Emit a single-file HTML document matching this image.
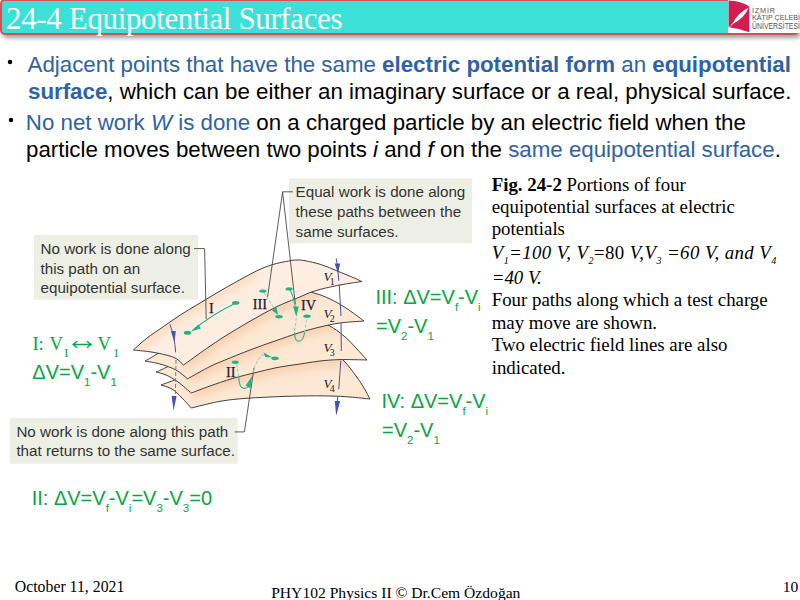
<!DOCTYPE html>
<html><head><meta charset="utf-8">
<style>
*{margin:0;padding:0}
html,body{width:800px;height:600px;overflow:hidden;background:#fff}
.tb{position:absolute;left:0;top:-1px;width:795px;height:32px;background:#3DE0D6;border:2px solid #CC5452;border-radius:5px;box-shadow:2px 3px 4px rgba(10,30,30,.42)}
svg{position:absolute;left:0;top:0}
</style></head><body>
<div class="tb"></div>
<svg width="800" height="600" viewBox="0 0 800 600">
<g transform="translate(728,0)">
<rect x="0" y="0" width="72" height="33" fill="#fff"/>
<path d="M0.5 0.4 Q13 0.6 21.3 6.6 L21.3 32.2 Q11 28.2 0.5 27.2 Z" fill="#D01E50"/>
<path d="M4.5 24 Q9.5 12.7 20.8 7.5 Q15.8 18.8 4.5 24 Z" fill="#fff"/>
<path d="M1.2 27.3 L8 20.5" stroke="#fff" stroke-width="0.8"/>
<g fill="#545466" font-family="Liberation Sans">
<text x="24" y="12.8" font-size="7.2" textLength="23" lengthAdjust="spacing">İZMİR</text>
<text x="24" y="20.3" font-size="7.6" textLength="48" lengthAdjust="spacingAndGlyphs">KÂTİP ÇELEBİ</text>
<text x="24" y="28.7" font-size="8.2" textLength="48" lengthAdjust="spacingAndGlyphs">ÜNİVERSİTESİ</text>
</g>
</g>

<rect x="289" y="178.4" width="183" height="64.6" fill="#EEEFE4"/>
<rect x="34" y="235" width="164" height="64.8" fill="#EEEFE4"/>
<rect x="9.7" y="417.8" width="228.1" height="46" fill="#EEEFE4"/>

<defs>
<linearGradient id="g1" x1="0" y1="0" x2="0" y2="1"><stop offset="0" stop-color="#FCE4D3"/><stop offset="0.5" stop-color="#FDEBDF"/><stop offset="1" stop-color="#FBE0CD"/></linearGradient>
<linearGradient id="g2" x1="0" y1="0" x2="0" y2="1"><stop offset="0" stop-color="#F4C9AC"/><stop offset="0.6" stop-color="#F9DAC4"/><stop offset="1" stop-color="#FBE3D2"/></linearGradient>
</defs>
<filter id="bl" x="-20%" y="-50%" width="140%" height="200%"><feGaussianBlur stdDeviation="5"/></filter>
<clipPath id="c1"><path d="M133.3 350 C135.5 348.1 141.7 342.2 146.7 338.3 C151.7 334.4 157.8 330.6 163.3 326.7 C168.9 322.8 174.4 318.8 180.0 315.2 C185.6 311.6 191.1 308.4 196.7 305.0 C202.2 301.6 207.8 298.3 213.3 295.0 C218.9 291.7 222.8 289.3 230.0 285.3 C237.2 281.3 249.2 274.6 256.2 271.1 C263.3 267.7 267.1 266.3 272.5 264.6 C277.9 262.9 284.8 261.8 288.8 261.0 C292.7 260.2 293.3 260.1 296.0 260.0 C298.7 259.9 300.8 259.9 305.0 260.7 C309.2 261.5 315.8 262.9 321.2 264.6 C326.7 266.3 332.1 268.9 337.5 271.1 C342.9 273.3 349.7 276.1 353.8 277.8 C357.8 279.5 360.5 280.9 361.8 281.5 C359.1 281.9 351.0 283.1 345.6 284.0 C340.2 284.9 334.8 285.9 329.4 287.2 C324.0 288.4 317.9 289.9 313.0 291.5 C308.1 293.1 306.3 294.2 300.0 296.9 C293.7 299.6 283.3 303.4 275.0 307.5 C266.7 311.6 258.3 316.5 250.0 321.2 C241.7 326.0 232.3 331.7 225.0 336.2 C217.7 340.8 213.2 344.0 206.2 348.8 C199.3 353.5 187.3 362.3 183.5 365.0 C182.2 363.9 178.9 360.2 176.0 358.5 C173.1 356.8 170.3 356.1 166.0 355.0 C161.7 353.9 155.4 352.6 150.0 351.8 C144.6 351.0 136.1 350.3 133.3 350.0 Z"/></clipPath>
<clipPath id="c2"><path d="M145 361 C147.0 359.8 147.8 359.8 157.0 354.0 C166.2 348.2 184.5 334.8 200.0 326.0 C215.5 317.2 235.0 307.2 250.0 301.0 C265.0 294.8 279.3 290.3 290.0 289.0 C300.7 287.7 307.3 291.3 314.0 293.0 C320.7 294.7 324.7 296.5 330.0 299.0 C335.3 301.5 340.3 304.3 346.0 308.0 C351.7 311.7 361.0 318.8 364.0 321.0 C360.0 321.3 347.3 322.0 340.0 323.0 C332.7 324.0 326.7 325.4 320.0 327.0 C313.3 328.6 307.5 330.2 300.0 332.5 C292.5 334.8 283.3 338.1 275.0 341.0 C266.7 343.9 258.3 346.8 250.0 350.0 C241.7 353.2 231.7 357.2 225.0 360.0 C218.3 362.8 216.2 363.4 210.0 366.5 C203.8 369.6 191.2 376.8 187.5 378.8 C185.6 377.3 180.6 372.5 176.0 370.0 C171.4 367.5 165.2 365.5 160.0 364.0 C154.8 362.5 147.5 361.5 145.0 361.0 Z"/></clipPath>
<clipPath id="c3"><path d="M156 372 C157.8 371.2 156.3 372.3 167.0 367.0 C177.7 361.7 201.2 347.5 220.0 340.0 C238.8 332.5 265.0 325.3 280.0 322.0 C295.0 318.7 302.0 319.5 310.0 320.0 C318.0 320.5 322.3 322.3 328.0 325.0 C333.7 327.7 339.3 332.2 344.0 336.0 C348.7 339.8 352.2 344.0 356.0 348.0 C359.8 352.0 365.2 358.0 367.0 360.0 C362.5 359.9 347.8 359.4 340.0 359.6 C332.2 359.8 326.7 360.3 320.0 361.0 C313.3 361.7 306.7 363.0 300.0 364.0 C293.3 365.0 286.7 365.8 280.0 367.0 C273.3 368.2 267.9 369.6 260.0 371.5 C252.1 373.4 240.8 376.1 232.5 378.5 C224.2 380.9 216.9 383.6 210.0 386.0 C203.1 388.4 194.4 391.8 191.3 393.0 C189.1 391.2 182.2 385.0 178.0 382.0 C173.8 379.0 169.7 376.7 166.0 375.0 C162.3 373.3 157.7 372.5 156.0 372.0 Z"/></clipPath>
<clipPath id="c4"><path d="M161 385 C162.8 384.3 160.5 385.2 172.0 381.0 C183.5 376.8 210.3 366.0 230.0 360.0 C249.7 354.0 273.3 346.7 290.0 345.0 C306.7 343.3 321.0 347.3 330.0 350.0 C339.0 352.7 339.7 356.7 344.0 361.0 C348.3 365.3 352.7 371.5 356.0 376.0 C359.3 380.5 361.7 384.2 364.0 388.0 C366.3 391.8 369.0 397.2 370.0 399.0 C366.7 398.7 356.7 397.5 350.0 397.0 C343.3 396.5 338.3 396.2 330.0 396.0 C321.7 395.8 310.0 395.8 300.0 396.0 C290.0 396.2 280.0 396.5 270.0 397.0 C260.0 397.5 248.8 398.0 240.0 398.8 C231.2 399.6 225.6 400.3 217.5 401.8 C209.4 403.3 195.7 407.0 191.3 408.0 C189.8 406.3 185.2 401.2 182.0 398.0 C178.8 394.8 175.5 391.2 172.0 389.0 C168.5 386.8 162.8 385.7 161.0 385.0 Z"/></clipPath>
<path d="M161 385 C162.8 384.3 160.5 385.2 172.0 381.0 C183.5 376.8 210.3 366.0 230.0 360.0 C249.7 354.0 273.3 346.7 290.0 345.0 C306.7 343.3 321.0 347.3 330.0 350.0 C339.0 352.7 339.7 356.7 344.0 361.0 C348.3 365.3 352.7 371.5 356.0 376.0 C359.3 380.5 361.7 384.2 364.0 388.0 C366.3 391.8 369.0 397.2 370.0 399.0 C366.7 398.7 356.7 397.5 350.0 397.0 C343.3 396.5 338.3 396.2 330.0 396.0 C321.7 395.8 310.0 395.8 300.0 396.0 C290.0 396.2 280.0 396.5 270.0 397.0 C260.0 397.5 248.8 398.0 240.0 398.8 C231.2 399.6 225.6 400.3 217.5 401.8 C209.4 403.3 195.7 407.0 191.3 408.0 C189.8 406.3 185.2 401.2 182.0 398.0 C178.8 394.8 175.5 391.2 172.0 389.0 C168.5 386.8 162.8 385.7 161.0 385.0 Z" fill="#FDE8D4"/>
<g clip-path="url(#c4)"><path d="M367 360 C362.5 359.9 347.8 359.4 340.0 359.6 C332.2 359.8 326.7 360.3 320.0 361.0 C313.3 361.7 306.7 363.0 300.0 364.0 C293.3 365.0 286.7 365.8 280.0 367.0 C273.3 368.2 267.9 369.6 260.0 371.5 C252.1 373.4 240.8 376.1 232.5 378.5 C224.2 380.9 216.9 383.6 210.0 386.0 C203.1 388.4 194.4 391.8 191.3 393.0" fill="none" stroke="#F8CFAE" stroke-width="12" filter="url(#bl)"/></g>
<path d="M161 385 C162.8 384.3 160.5 385.2 172.0 381.0 C183.5 376.8 210.3 366.0 230.0 360.0 C249.7 354.0 273.3 346.7 290.0 345.0 C306.7 343.3 321.0 347.3 330.0 350.0 C339.0 352.7 339.7 356.7 344.0 361.0 C348.3 365.3 352.7 371.5 356.0 376.0 C359.3 380.5 361.7 384.2 364.0 388.0 C366.3 391.8 369.0 397.2 370.0 399.0 C366.7 398.7 356.7 397.5 350.0 397.0 C343.3 396.5 338.3 396.2 330.0 396.0 C321.7 395.8 310.0 395.8 300.0 396.0 C290.0 396.2 280.0 396.5 270.0 397.0 C260.0 397.5 248.8 398.0 240.0 398.8 C231.2 399.6 225.6 400.3 217.5 401.8 C209.4 403.3 195.7 407.0 191.3 408.0 C189.8 406.3 185.2 401.2 182.0 398.0 C178.8 394.8 175.5 391.2 172.0 389.0 C168.5 386.8 162.8 385.7 161.0 385.0 Z" fill="none" stroke="#2b2b2b" stroke-width="0.9"/>
<path d="M156 372 C157.8 371.2 156.3 372.3 167.0 367.0 C177.7 361.7 201.2 347.5 220.0 340.0 C238.8 332.5 265.0 325.3 280.0 322.0 C295.0 318.7 302.0 319.5 310.0 320.0 C318.0 320.5 322.3 322.3 328.0 325.0 C333.7 327.7 339.3 332.2 344.0 336.0 C348.7 339.8 352.2 344.0 356.0 348.0 C359.8 352.0 365.2 358.0 367.0 360.0 C362.5 359.9 347.8 359.4 340.0 359.6 C332.2 359.8 326.7 360.3 320.0 361.0 C313.3 361.7 306.7 363.0 300.0 364.0 C293.3 365.0 286.7 365.8 280.0 367.0 C273.3 368.2 267.9 369.6 260.0 371.5 C252.1 373.4 240.8 376.1 232.5 378.5 C224.2 380.9 216.9 383.6 210.0 386.0 C203.1 388.4 194.4 391.8 191.3 393.0 C189.1 391.2 182.2 385.0 178.0 382.0 C173.8 379.0 169.7 376.7 166.0 375.0 C162.3 373.3 157.7 372.5 156.0 372.0 Z" fill="#FDE8D4"/>
<g clip-path="url(#c3)"><path d="M364 321 C360.0 321.3 347.3 322.0 340.0 323.0 C332.7 324.0 326.7 325.4 320.0 327.0 C313.3 328.6 307.5 330.2 300.0 332.5 C292.5 334.8 283.3 338.1 275.0 341.0 C266.7 343.9 258.3 346.8 250.0 350.0 C241.7 353.2 231.7 357.2 225.0 360.0 C218.3 362.8 216.2 363.4 210.0 366.5 C203.8 369.6 191.2 376.8 187.5 378.8" fill="none" stroke="#F8CFAE" stroke-width="12" filter="url(#bl)"/></g>
<path d="M156 372 C157.8 371.2 156.3 372.3 167.0 367.0 C177.7 361.7 201.2 347.5 220.0 340.0 C238.8 332.5 265.0 325.3 280.0 322.0 C295.0 318.7 302.0 319.5 310.0 320.0 C318.0 320.5 322.3 322.3 328.0 325.0 C333.7 327.7 339.3 332.2 344.0 336.0 C348.7 339.8 352.2 344.0 356.0 348.0 C359.8 352.0 365.2 358.0 367.0 360.0 C362.5 359.9 347.8 359.4 340.0 359.6 C332.2 359.8 326.7 360.3 320.0 361.0 C313.3 361.7 306.7 363.0 300.0 364.0 C293.3 365.0 286.7 365.8 280.0 367.0 C273.3 368.2 267.9 369.6 260.0 371.5 C252.1 373.4 240.8 376.1 232.5 378.5 C224.2 380.9 216.9 383.6 210.0 386.0 C203.1 388.4 194.4 391.8 191.3 393.0 C189.1 391.2 182.2 385.0 178.0 382.0 C173.8 379.0 169.7 376.7 166.0 375.0 C162.3 373.3 157.7 372.5 156.0 372.0 Z" fill="none" stroke="#2b2b2b" stroke-width="0.9"/>
<path d="M145 361 C147.0 359.8 147.8 359.8 157.0 354.0 C166.2 348.2 184.5 334.8 200.0 326.0 C215.5 317.2 235.0 307.2 250.0 301.0 C265.0 294.8 279.3 290.3 290.0 289.0 C300.7 287.7 307.3 291.3 314.0 293.0 C320.7 294.7 324.7 296.5 330.0 299.0 C335.3 301.5 340.3 304.3 346.0 308.0 C351.7 311.7 361.0 318.8 364.0 321.0 C360.0 321.3 347.3 322.0 340.0 323.0 C332.7 324.0 326.7 325.4 320.0 327.0 C313.3 328.6 307.5 330.2 300.0 332.5 C292.5 334.8 283.3 338.1 275.0 341.0 C266.7 343.9 258.3 346.8 250.0 350.0 C241.7 353.2 231.7 357.2 225.0 360.0 C218.3 362.8 216.2 363.4 210.0 366.5 C203.8 369.6 191.2 376.8 187.5 378.8 C185.6 377.3 180.6 372.5 176.0 370.0 C171.4 367.5 165.2 365.5 160.0 364.0 C154.8 362.5 147.5 361.5 145.0 361.0 Z" fill="#FDE8D4"/>
<g clip-path="url(#c2)"><path d="M361.8 281.5 C359.1 281.9 351.0 283.1 345.6 284.0 C340.2 284.9 334.8 285.9 329.4 287.2 C324.0 288.4 317.9 289.9 313.0 291.5 C308.1 293.1 306.3 294.2 300.0 296.9 C293.7 299.6 283.3 303.4 275.0 307.5 C266.7 311.6 258.3 316.5 250.0 321.2 C241.7 326.0 232.3 331.7 225.0 336.2 C217.7 340.8 213.2 344.0 206.2 348.8 C199.3 353.5 187.3 362.3 183.5 365.0" fill="none" stroke="#F8CFAE" stroke-width="12" filter="url(#bl)"/></g>
<path d="M145 361 C147.0 359.8 147.8 359.8 157.0 354.0 C166.2 348.2 184.5 334.8 200.0 326.0 C215.5 317.2 235.0 307.2 250.0 301.0 C265.0 294.8 279.3 290.3 290.0 289.0 C300.7 287.7 307.3 291.3 314.0 293.0 C320.7 294.7 324.7 296.5 330.0 299.0 C335.3 301.5 340.3 304.3 346.0 308.0 C351.7 311.7 361.0 318.8 364.0 321.0 C360.0 321.3 347.3 322.0 340.0 323.0 C332.7 324.0 326.7 325.4 320.0 327.0 C313.3 328.6 307.5 330.2 300.0 332.5 C292.5 334.8 283.3 338.1 275.0 341.0 C266.7 343.9 258.3 346.8 250.0 350.0 C241.7 353.2 231.7 357.2 225.0 360.0 C218.3 362.8 216.2 363.4 210.0 366.5 C203.8 369.6 191.2 376.8 187.5 378.8 C185.6 377.3 180.6 372.5 176.0 370.0 C171.4 367.5 165.2 365.5 160.0 364.0 C154.8 362.5 147.5 361.5 145.0 361.0 Z" fill="none" stroke="#2b2b2b" stroke-width="0.9"/>
<path d="M133.3 350 C135.5 348.1 141.7 342.2 146.7 338.3 C151.7 334.4 157.8 330.6 163.3 326.7 C168.9 322.8 174.4 318.8 180.0 315.2 C185.6 311.6 191.1 308.4 196.7 305.0 C202.2 301.6 207.8 298.3 213.3 295.0 C218.9 291.7 222.8 289.3 230.0 285.3 C237.2 281.3 249.2 274.6 256.2 271.1 C263.3 267.7 267.1 266.3 272.5 264.6 C277.9 262.9 284.8 261.8 288.8 261.0 C292.7 260.2 293.3 260.1 296.0 260.0 C298.7 259.9 300.8 259.9 305.0 260.7 C309.2 261.5 315.8 262.9 321.2 264.6 C326.7 266.3 332.1 268.9 337.5 271.1 C342.9 273.3 349.7 276.1 353.8 277.8 C357.8 279.5 360.5 280.9 361.8 281.5 C359.1 281.9 351.0 283.1 345.6 284.0 C340.2 284.9 334.8 285.9 329.4 287.2 C324.0 288.4 317.9 289.9 313.0 291.5 C308.1 293.1 306.3 294.2 300.0 296.9 C293.7 299.6 283.3 303.4 275.0 307.5 C266.7 311.6 258.3 316.5 250.0 321.2 C241.7 326.0 232.3 331.7 225.0 336.2 C217.7 340.8 213.2 344.0 206.2 348.8 C199.3 353.5 187.3 362.3 183.5 365.0 C182.2 363.9 178.9 360.2 176.0 358.5 C173.1 356.8 170.3 356.1 166.0 355.0 C161.7 353.9 155.4 352.6 150.0 351.8 C144.6 351.0 136.1 350.3 133.3 350.0 Z" fill="#FDEEE1"/>
<g clip-path="url(#c1)"><path d="M133.3 350 C135.5 348.1 141.7 342.2 146.7 338.3 C151.7 334.4 157.8 330.6 163.3 326.7 C168.9 322.8 174.4 318.8 180.0 315.2 C185.6 311.6 191.1 308.4 196.7 305.0 C202.2 301.6 207.8 298.3 213.3 295.0 C218.9 291.7 222.8 289.3 230.0 285.3 C237.2 281.3 251.9 273.5 256.2 271.1" fill="none" stroke="#FBDBBF" stroke-width="12" filter="url(#bl)"/></g>
<path d="M133.3 350 C135.5 348.1 141.7 342.2 146.7 338.3 C151.7 334.4 157.8 330.6 163.3 326.7 C168.9 322.8 174.4 318.8 180.0 315.2 C185.6 311.6 191.1 308.4 196.7 305.0 C202.2 301.6 207.8 298.3 213.3 295.0 C218.9 291.7 222.8 289.3 230.0 285.3 C237.2 281.3 249.2 274.6 256.2 271.1 C263.3 267.7 267.1 266.3 272.5 264.6 C277.9 262.9 284.8 261.8 288.8 261.0 C292.7 260.2 293.3 260.1 296.0 260.0 C298.7 259.9 300.8 259.9 305.0 260.7 C309.2 261.5 315.8 262.9 321.2 264.6 C326.7 266.3 332.1 268.9 337.5 271.1 C342.9 273.3 349.7 276.1 353.8 277.8 C357.8 279.5 360.5 280.9 361.8 281.5 C359.1 281.9 351.0 283.1 345.6 284.0 C340.2 284.9 334.8 285.9 329.4 287.2 C324.0 288.4 317.9 289.9 313.0 291.5 C308.1 293.1 306.3 294.2 300.0 296.9 C293.7 299.6 283.3 303.4 275.0 307.5 C266.7 311.6 258.3 316.5 250.0 321.2 C241.7 326.0 232.3 331.7 225.0 336.2 C217.7 340.8 213.2 344.0 206.2 348.8 C199.3 353.5 187.3 362.3 183.5 365.0 C182.2 363.9 178.9 360.2 176.0 358.5 C173.1 356.8 170.3 356.1 166.0 355.0 C161.7 353.9 155.4 352.6 150.0 351.8 C144.6 351.0 136.1 350.3 133.3 350.0 Z" fill="none" stroke="#2b2b2b" stroke-width="0.9"/>
<!-- leader lines -->
<g stroke="#333" stroke-width="0.8" fill="none">
<path d="M292.8 191.8 H282.6 L267.6 297 M282.6 191.8 L295.3 304"/>
<path d="M194 248.6 H204.6 L206.2 319"/>
<path d="M234.7 431.9 H244.4 L254 368"/>
</g>
<!-- field lines -->
<g stroke="#4453B0" stroke-width="1" fill="none">
<path d="M169.9 324.4 Q174.5 336 175.7 352.4"/>
<path d="M176 360 L175.4 395" stroke-dasharray="4 2" stroke="#6E78C4"/>
<path d="M336.2 258.3 Q338.2 268 338.75 280.75 M339.2 284.5 L341 316 M341 323.2 L341.3 351 M340.8 360.8 L338.75 389.3"/>
<path d="M337.7 396.8 L336.6 410"/>
</g>
<g fill="#4453B0">
<path d="M170.8 331 L175.8 331 L174.5 342 Z"/>
<path d="M171.6 396 L176.6 396 L173.6 410.5 Z"/>
<path d="M334.6 263.5 L340.2 263.5 L338 273 Z"/>
<path d="M334.8 401 L340.2 401 L336.2 415.8 Z"/>
</g>
<!-- paths -->
<g stroke="#26B384" stroke-width="1.1" fill="none">
<path d="M234 304 Q213 314 193 330"/>
<path d="M290 290 Q293.5 296 295.3 306.5"/>
<path d="M294.6 332.2 Q294.5 341.2 298.7 341.2 Q303.5 341 304.6 332.2"/>
<path d="M238.7 376.5 Q239 388 244 388.4 Q247 388.4 248.5 386.5"/>
</g>
<g stroke="#93D8B9" stroke-width="1.1" fill="none" stroke-dasharray="3.2 1.6">
<path d="M264 292.5 L274 308"/>
<path d="M296.3 318 L294.6 332.2"/>
<path d="M304.6 332.2 L306.8 317.5"/>
<path d="M236.8 364 L238.7 376.5"/>
<path d="M252.8 373 Q255 364 258.8 359 Q261 356 263.5 354.5"/>
</g>
<g fill="#26B384">
<ellipse cx="235.7" cy="302.9" rx="3.7" ry="1.8"/>
<ellipse cx="187.5" cy="332.8" rx="3.7" ry="2"/>
<ellipse cx="262.9" cy="291.1" rx="3.7" ry="1.6"/>
<ellipse cx="279" cy="316.7" rx="3.8" ry="1.7"/>
<ellipse cx="289.1" cy="288.9" rx="3.6" ry="1.6"/>
<ellipse cx="307" cy="316.2" rx="3.7" ry="1.6"/>
<ellipse cx="235.3" cy="362.3" rx="3.5" ry="1.7"/>
<ellipse cx="275" cy="358.3" rx="3.8" ry="1.9"/>
<path d="M198.3 324.4 L200.9 328.6 L191 331.6 Z"/>
<path d="M271.8 310.2 L276.4 307.2 L278.2 315 Z"/>
<path d="M293 306.5 L298.8 306.5 L296.3 316.7 Z"/>
<path d="M245.6 385.5 L252.3 375.8 L250.5 388.5 Z"/>
<path d="M263.2 352.2 L272.2 357.3 L265.5 357.2 Z"/>
</g>
<g font-family="Liberation Serif" font-size="14.3" fill="#1c1c30" stroke="#1c1c30" stroke-width="0.25">
<text x="209.1" y="312.7">I</text>
<text x="252.8" y="309.1">III</text>
<text x="300.9" y="310">IV</text>
<text x="226" y="376.7">II</text>
</g>
<g font-family="Liberation Serif" font-style="italic" font-size="13.3" fill="#222">
<text x="323.5" y="281">V<tspan font-size="10" font-style="normal" baseline-shift="-3.8" dx="-1.8">1</tspan></text>
<text x="323.5" y="317.8">V<tspan font-size="10" font-style="normal" baseline-shift="-3.8" dx="-1.8">2</tspan></text>
<text x="323.5" y="351.8">V<tspan font-size="10" font-style="normal" baseline-shift="-3.8" dx="-1.8">3</tspan></text>
<text x="323.5" y="387.6">V<tspan font-size="10" font-style="normal" baseline-shift="-3.8" dx="-1.8">4</tspan></text>
</g>

<circle cx="10" cy="62" r="2.25" fill="#000"/>
<circle cx="11" cy="120" r="2.25" fill="#000"/>
<text x="6.1" y="29" font-family="Liberation Serif" font-size="31" fill="#fff" letter-spacing="-0.37">24-4 Equipotential Surfaces</text>
<text x="27.6" y="71.6" font-family="Liberation Sans" font-size="22.3" fill="#000" ><tspan fill="#2E62A6">Adjacent points that have the same </tspan><tspan fill="#2E62A6" font-weight="bold">electric potential form</tspan><tspan fill="#2E62A6"> an </tspan><tspan fill="#2E62A6" font-weight="bold">equipotential</tspan></text>
<text x="28.0" y="98.6" font-family="Liberation Sans" font-size="22.3" fill="#000" ><tspan fill="#2E62A6" font-weight="bold">surface</tspan>, which can be either an imaginary surface or a real, physical surface.</text>
<text x="25.8" y="130" font-family="Liberation Sans" font-size="22.3" fill="#000" ><tspan fill="#2E62A6">No net work <tspan font-style="italic">W</tspan> is done</tspan> on a charged particle by an electric field when the</text>
<text x="26.0" y="156.5" font-family="Liberation Sans" font-size="22.3" fill="#000" >particle moves between two points <tspan font-style="italic">i</tspan> and <tspan font-style="italic">f</tspan> on the <tspan fill="#2E62A6">same equipotential surface</tspan>.</text>
<text x="491.7" y="190.6" font-family="Liberation Serif" font-size="18.85" fill="#000" ><tspan font-weight="bold">Fig. 24-2</tspan> Portions of four</text>
<text x="491.7" y="213.1" font-family="Liberation Serif" font-size="18.85" fill="#000" >equipotential surfaces at electric</text>
<text x="491.7" y="235.25" font-family="Liberation Serif" font-size="18.85" fill="#000" >potentials</text>
<text x="491.7" y="258.6" font-family="Liberation Serif" font-size="18.85" fill="#000" letter-spacing="0.42"><tspan font-style="italic">V<tspan font-size="10" baseline-shift="-4.7" font-style="italic">1</tspan>=100 V, V<tspan font-size="10" baseline-shift="-4.7" font-style="italic">2</tspan></tspan>=80 <tspan font-style="italic">V,V<tspan font-size="10" baseline-shift="-4.7" font-style="italic">3</tspan> =60 V, and V<tspan font-size="10" baseline-shift="-4.7" font-style="italic">4</tspan></tspan></text>
<text x="491.7" y="284" font-family="Liberation Serif" font-size="18.85" fill="#000" ><tspan font-style="italic">=40 V.</tspan></text>
<text x="491.7" y="306.4" font-family="Liberation Serif" font-size="18.85" fill="#000" >Four paths along which a test charge</text>
<text x="491.7" y="329" font-family="Liberation Serif" font-size="18.85" fill="#000" >may move are shown.</text>
<text x="491.7" y="351" font-family="Liberation Serif" font-size="18.85" fill="#000" >Two electric field lines are also</text>
<text x="491.7" y="373.6" font-family="Liberation Serif" font-size="18.85" fill="#000" >indicated.</text>
<text x="32.4" y="350" font-family="Liberation Serif" font-size="18.67" fill="#06A642" >I:</text>
<text x="49.4" y="350" font-family="Liberation Serif" font-size="18.67" fill="#06A642" >V</text>
<text x="64.2" y="356.6" font-family="Liberation Serif" font-size="12.8" fill="#06A642" >I</text>
<text x="97.4" y="350" font-family="Liberation Serif" font-size="18.67" fill="#06A642" >V</text>
<text x="113" y="356.6" font-family="Liberation Serif" font-size="12.8" fill="#06A642" >1</text>
<path d="M77.3 341.2 L73 344.5 L77.3 347.8 M73 344.5 H91 M86.8 341.2 L91.1 344.5 L86.8 347.8" stroke="#06A642" stroke-width="1.3" fill="none"/>
<text x="32.3" y="378.7" font-family="Liberation Sans" font-size="20" fill="#06A642" >ΔV=V<tspan font-size="11.5" baseline-shift="-7">1</tspan>-V<tspan font-size="11.5" baseline-shift="-7">1</tspan></text>
<text x="375.4" y="303.6" font-family="Liberation Sans" font-size="20" fill="#06A642" >III: ΔV=V<tspan font-size="11.5" baseline-shift="-7">f</tspan>-V<tspan font-size="11.5" baseline-shift="-7">i</tspan></text>
<text x="376" y="332.7" font-family="Liberation Sans" font-size="20" fill="#06A642" >=V<tspan font-size="11.5" baseline-shift="-7">2</tspan>-V<tspan font-size="11.5" baseline-shift="-7">1</tspan></text>
<text x="381.4" y="407.6" font-family="Liberation Sans" font-size="20" fill="#06A642" >IV: ΔV=V<tspan font-size="11.5" baseline-shift="-7">f</tspan>-V<tspan font-size="11.5" baseline-shift="-7">i</tspan></text>
<text x="382" y="436.5" font-family="Liberation Sans" font-size="20" fill="#06A642" >=V<tspan font-size="11.5" baseline-shift="-7">2</tspan>-V<tspan font-size="11.5" baseline-shift="-7">1</tspan></text>
<text x="31.7" y="505.2" font-family="Liberation Sans" font-size="20" fill="#06A642" >II: ΔV=V<tspan font-size="11.5" baseline-shift="-7">f</tspan>-V<tspan font-size="11.5" baseline-shift="-7">i</tspan>=V<tspan font-size="11.5" baseline-shift="-7">3</tspan>-V<tspan font-size="11.5" baseline-shift="-7">3</tspan>=0</text>
<text x="295.6" y="197" font-family="Liberation Sans" font-size="15.2" fill="#333" >Equal work is done along</text>
<text x="295.6" y="217.2" font-family="Liberation Sans" font-size="15.2" fill="#333" >these paths between the</text>
<text x="295.6" y="236.9" font-family="Liberation Sans" font-size="15.2" fill="#333" >same surfaces.</text>
<text x="40.5" y="253.5" font-family="Liberation Sans" font-size="15.2" fill="#333" >No work is done along</text>
<text x="40.5" y="273.7" font-family="Liberation Sans" font-size="15.2" fill="#333" >this path on an</text>
<text x="40.5" y="293.4" font-family="Liberation Sans" font-size="15.2" fill="#333" >equipotential surface.</text>
<text x="16.4" y="436.6" font-family="Liberation Sans" font-size="15.2" fill="#333" >No work is done along this path</text>
<text x="16.4" y="456.25" font-family="Liberation Sans" font-size="15.2" fill="#333" >that returns to the same surface.</text>
<text x="14.8" y="591.8" font-family="Liberation Serif" font-size="15.8" fill="#000" >October 11, 2021</text>
<text x="271.2" y="597.5" font-family="Liberation Serif" font-size="15.6" fill="#000" >PHY102 Physics II © Dr.Cem Özdoğan</text>
<text x="782.8" y="592" font-family="Liberation Serif" font-size="15.6" fill="#000" >10</text>

</svg>
</body></html>
